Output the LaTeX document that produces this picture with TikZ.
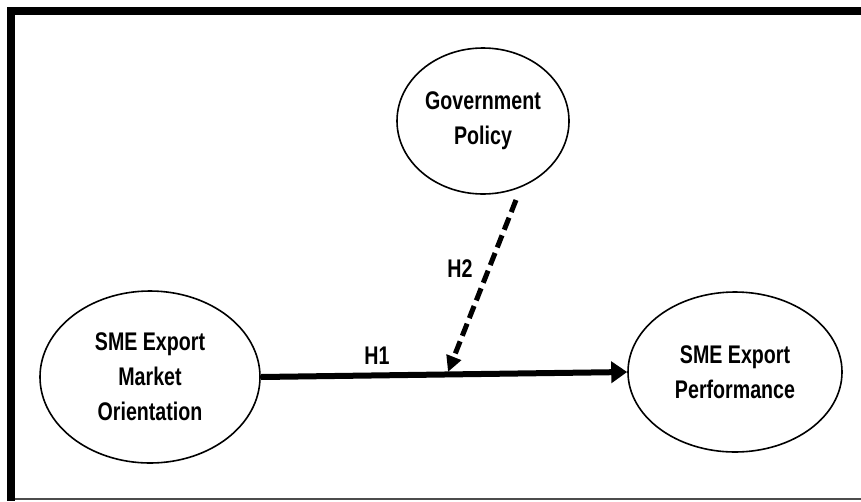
\documentclass[tikz,border=0pt]{standalone}
\usepackage{fontspec}
\setmainfont{Liberation Sans}[FakeStretch=0.77]
\usetikzlibrary{arrows.meta,shapes.geometric}
\begin{document}
\begin{tikzpicture}[x=1pt,y=-1pt,
  construct/.style={draw=black,line width=1.6pt,ellipse,inner sep=0pt,align=center,
    font=\fontsize{25.5}{35}\selectfont\bfseries},
  hlabel/.style={font=\fontsize{25.5}{28}\selectfont\bfseries,inner sep=0pt},
  mainarrow/.style={line width=6pt,-{Triangle[length=16pt,width=21pt]}},
  modarrow/.style={line width=5pt,dash pattern=on 13pt off 6pt,-{Triangle[length=16pt,width=15pt]}}
]
\useasboundingbox (0,0) rectangle (861,501);
% frame
\fill[black] (7,7) rectangle (861,15);
\fill[black] (7,7) rectangle (15,501);
\draw[line width=1.2pt,black!70] (15,499) -- (861,499);
% constructs
\node[construct,minimum width=172pt,minimum height=146pt] (gov) at (483,121) {Government\\Policy};
\node[construct,minimum width=220pt,minimum height=172pt] (smo) at (150,377) {SME Export\\Market\\Orientation};
\node[construct,minimum width=214pt,minimum height=160pt] (sep) at (735,372) {SME Export\\Performance};
% connectors
\draw[mainarrow] (smo.east) -- (sep.west);
\coordinate (h2s) at (516,200);
\coordinate (h2e) at (448,372);
\draw[modarrow] (h2s) -- (h2e);
\node[hlabel] (h1) at (377,356) {H1};
\node[hlabel] (h2) at (460,269) {H2};
\end{tikzpicture}
\end{document}
